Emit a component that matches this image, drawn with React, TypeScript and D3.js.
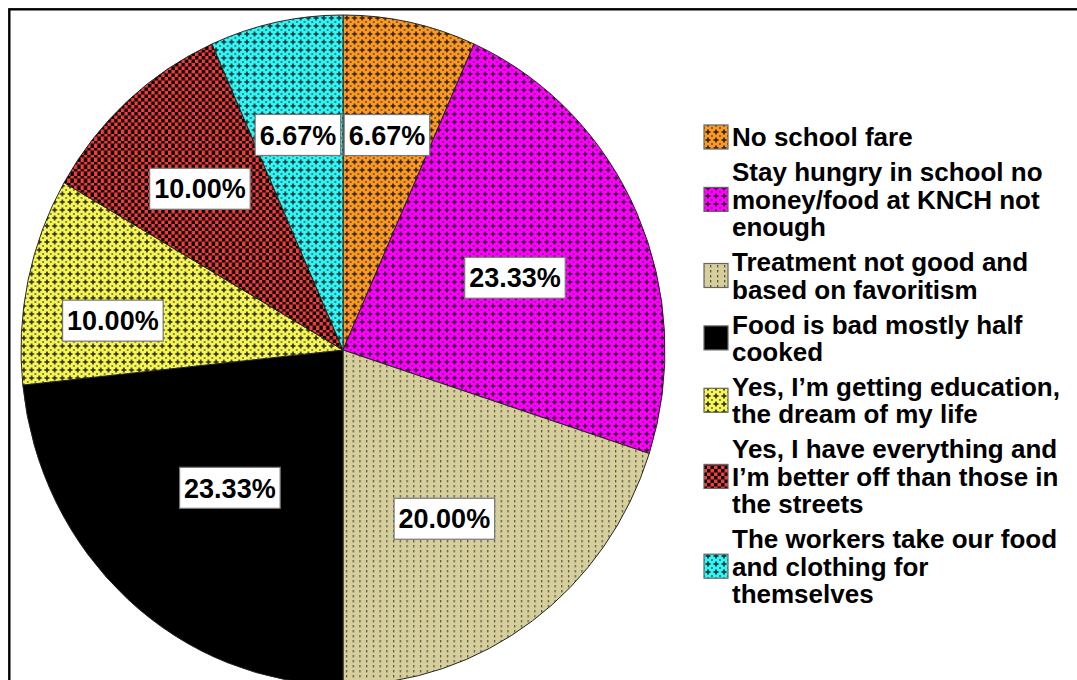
import React, { useEffect, useRef } from "react";
import * as d3 from "d3";

// ---- data ----
const categories = [
  "No school fare",
  "Stay hungry in school no money/food at KNCH not enough",
  "Treatment not good and based on favoritism",
  "Food is bad mostly half cooked",
  "Yes, I’m getting education, the dream of my life",
  "Yes, I have everything and I’m better off than those in the streets",
  "The workers take our food and clothing for themselves",
];
const values = [6.67, 23.33, 20.0, 23.33, 10.0, 10.0, 6.67];
const legendLines = [
  ["No school fare"],
  ["Stay hungry in school no", "money/food at KNCH not", "enough"],
  ["Treatment not good and", "based on favoritism"],
  ["Food is bad mostly half", "cooked"],
  ["Yes, I’m getting education,", "the dream of my life"],
  ["Yes, I have everything and", "I’m better off than those in", "the streets"],
  ["The workers take our food", "and clothing for", "themselves"],
];

// ---- styles ----
const baseColors = ["#F99A28", "#FF00FF", "#D6CE9B", "#000000", "#F6F65A", "#F43C3C", "#36F4F4"];
const darkColors = ["#3a2204", "#3a003a", "#55554a", "#000000", "#30300c", "#000000", "#083a3a"];
const patternKinds = ["plus", "plus", "dash", "solid", "plus", "check", "plus"];
const labelRadius = [0.656, 0.576, 0.594, 0.541, 0.72, 0.655, 0.657];
const labelAngleShift = [0, 2, 4, -1.5, -5, -0.7, -0.3];

const W = 1077;
const H = 680;
const CX = 343;
const CY = 350;
const RX = 322;
const RY = 335;
const FONT = "'Liberation Sans', Arial, Helvetica, sans-serif";

export default function App() {
  const ref = useRef<SVGSVGElement | null>(null);

  useEffect(() => {
    const svg = d3.select(ref.current);
    svg.selectAll("*").remove();

    const defs = svg.append("defs");
    baseColors.forEach((c, i) => {
      const kind = patternKinds[i];
      const dark = darkColors[i];
      if (kind === "solid") return;
      if (kind === "plus") {
        const p = defs
          .append("pattern")
          .attr("id", `pat${i}`)
          .attr("patternUnits", "userSpaceOnUse")
          .attr("width", 8)
          .attr("height", 8);
        p.append("rect").attr("width", 8).attr("height", 8).attr("fill", c);
        p.append("rect").attr("x", 1.5).attr("y", 3).attr("width", 5).attr("height", 2).attr("fill", dark).attr("opacity", 0.85);
        p.append("rect").attr("x", 3).attr("y", 1.5).attr("width", 2).attr("height", 5).attr("fill", dark).attr("opacity", 0.85);
        p.append("rect").attr("x", 0).attr("y", 0).attr("width", 1).attr("height", 1).attr("fill", dark).attr("opacity", 0.55);
        p.append("rect").attr("x", 7).attr("y", 7).attr("width", 1).attr("height", 1).attr("fill", dark).attr("opacity", 0.55);
        p.append("rect").attr("x", 7).attr("y", 0).attr("width", 1).attr("height", 1).attr("fill", dark).attr("opacity", 0.55);
        p.append("rect").attr("x", 0).attr("y", 7).attr("width", 1).attr("height", 1).attr("fill", dark).attr("opacity", 0.55);
      } else if (kind === "dash") {
        const p = defs
          .append("pattern")
          .attr("id", `pat${i}`)
          .attr("patternUnits", "userSpaceOnUse")
          .attr("width", 7)
          .attr("height", 5);
        p.append("rect").attr("width", 7).attr("height", 5).attr("fill", c);
        p.append("rect").attr("x", 3).attr("y", 0).attr("width", 1.3).attr("height", 2.4).attr("fill", dark);
      } else if (kind === "check") {
        const p = defs
          .append("pattern")
          .attr("id", `pat${i}`)
          .attr("patternUnits", "userSpaceOnUse")
          .attr("width", 7)
          .attr("height", 7);
        p.append("rect").attr("width", 7).attr("height", 7).attr("fill", c);
        p.append("rect").attr("x", 0).attr("y", 0).attr("width", 3.5).attr("height", 3.5).attr("fill", dark);
        p.append("rect").attr("x", 3.5).attr("y", 3.5).attr("width", 3.5).attr("height", 3.5).attr("fill", dark);
      }
    });
    const fillOf = (i: number) => (patternKinds[i] === "solid" ? baseColors[i] : `url(#pat${i})`);

    svg.append("rect").attr("width", W).attr("height", H).attr("fill", "#fff");

    // frame
    svg
      .append("rect")
      .attr("x", 9.3)
      .attr("y", 9.3)
      .attr("width", W + 50)
      .attr("height", H + 50)
      .attr("fill", "none")
      .attr("stroke", "#000")
      .attr("stroke-width", 2.4);

    const pie = d3.pie<number>().sort(null).value((d) => d);
    const arcs = pie(values);
    const arc = d3.arc<d3.PieArcDatum<number>>().innerRadius(0).outerRadius(RY);

    const g = svg
      .append("g")
      .attr("transform", `translate(${CX},${CY}) scale(${RX / RY},1)`);
    g.selectAll("path")
      .data(arcs)
      .join("path")
      .attr("d", arc as any)
      .attr("fill", (_d, i) => fillOf(i))
      .attr("stroke", "#222")
      .attr("stroke-width", 1)
      .attr("stroke-linejoin", "round");

    // labels
    const fmt = d3.format(".2f");
    const lg = svg.append("g");
    arcs.forEach((a, i) => {
      const mid = (a.startAngle + a.endAngle) / 2 + (labelAngleShift[i] * Math.PI) / 180;
      const x = CX + Math.sin(mid) * labelRadius[i] * RX;
      const y = CY - Math.cos(mid) * labelRadius[i] * RY;
      const t = lg
        .append("text")
        .attr("x", x)
        .attr("y", y)
        .attr("dy", "0.36em")
        .attr("text-anchor", "middle")
        .attr("font-family", FONT)
        .attr("font-weight", "bold")
        .attr("font-size", 27)
        .attr("fill", "#000")
        .text(`${fmt(a.data)}%`);
      const bb = (t.node() as SVGTextElement).getBBox();
      const w = bb.width + 9;
      const h = 41;
      lg.insert("rect", "text")
        .attr("x", x - w / 2)
        .attr("y", y - h / 2)
        .attr("width", w)
        .attr("height", h)
        .attr("fill", "#fff")
        .attr("stroke", "#777")
        .attr("stroke-width", 1.2);
    });

    // legend
    const leg = svg.append("g");
    const lineH = 27.4;
    const gap = 35;
    let yy = 137;
    legendLines.forEach((lines, i) => {
      const first = yy;
      lines.forEach((ln, j) => {
        leg
          .append("text")
          .attr("x", 732)
          .attr("y", yy + j * lineH)
          .attr("dy", "0.36em")
          .attr("font-family", FONT)
          .attr("font-weight", "bold")
          .attr("font-size", 26)
          .attr("fill", "#000")
          .text(ln);
      });
      const last = yy + (lines.length - 1) * lineH;
      const cy = (first + last) / 2;
      leg
        .append("rect")
        .attr("x", 704)
        .attr("y", cy - 12)
        .attr("width", 24)
        .attr("height", 24)
        .attr("fill", fillOf(i))
        .attr("stroke", "#666")
        .attr("stroke-width", 1.2)
        .append("title")
        .text(categories[i]);
      yy = last + gap;
    });
  }, []);

  return (
    <div style={{ position: "absolute", left: 0, top: 0 }}>
      <svg ref={ref} width={W} height={H} style={{ display: "block" }} />
    </div>
  );
}
